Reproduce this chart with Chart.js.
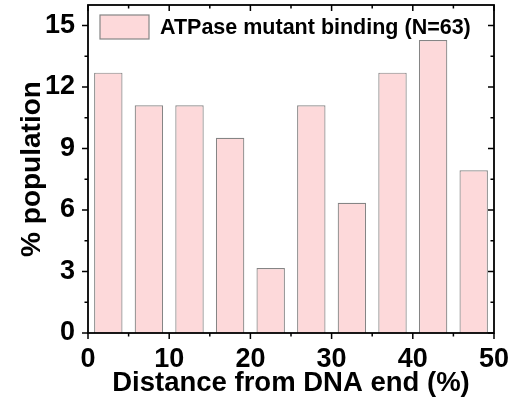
<!DOCTYPE html>
<html>
<head>
<meta charset="utf-8">
<script src="https://cdn.jsdelivr.net/npm/chart.js@4.4.1/dist/chart.umd.min.js"></script>
<style>
  html, body { margin: 0; padding: 0; background: #fff; }
  #wrap { width: 516px; height: 408px; }
</style>
</head>
<body>
<div id="wrap"><canvas id="mycanvas" width="516" height="408"></canvas></div>
<script>
// histogram data (counts out of 63)
var binCenters = [2.5, 7.5, 12.5, 17.5, 22.5, 27.5, 32.5, 37.5, 42.5, 47.5];
var population = [12.70, 11.11, 11.11, 9.52, 3.17, 11.11, 6.35, 12.70, 14.29, 7.94];

var xTicks = [0, 10, 20, 30, 40, 50];
var xMinor = [5, 15, 25, 35, 45];
var yTicks = [0, 3, 6, 9, 12, 15];
var yMinor = [1.5, 4.5, 7.5, 10.5, 13.5];

var FONT = "'Liberation Sans', Arial, Helvetica, sans-serif";
var FILL = '#fdd9da', EDGE = '#858585';

// frame + ticks in the Origin style (out on left/bottom, in on top/right), plus the legend box
var frameTicks = {
  id: 'frameTicks',
  afterDraw: function(chart) {
    var c = chart.ctx, a = chart.chartArea;
    var xs = chart.scales.x, ys = chart.scales.y;
    c.save();
    c.strokeStyle = '#000';
    c.lineWidth = 1.8;
    c.strokeRect(a.left, a.top, a.right - a.left, a.bottom - a.top);
    c.lineWidth = 1.5;
    function tx(v, len) {
      var p = xs.getPixelForValue(v);
      c.beginPath();
      c.moveTo(p, a.bottom); c.lineTo(p, a.bottom + len);
      c.moveTo(p, a.top); c.lineTo(p, a.top + len);
      c.stroke();
    }
    function ty(v, len) {
      var p = ys.getPixelForValue(v);
      c.beginPath();
      c.moveTo(a.left, p); c.lineTo(a.left - len, p);
      c.moveTo(a.right, p); c.lineTo(a.right - len, p);
      c.stroke();
    }
    xTicks.forEach(function(v){ tx(v, 6); });
    xMinor.forEach(function(v){ tx(v, 3.5); });
    yTicks.forEach(function(v){ ty(v, 6); });
    yMinor.forEach(function(v){ ty(v, 3.5); });

    // legend
    var bx = a.left + 12, by = a.top + 10;
    c.fillStyle = FILL;
    c.fillRect(bx, by, 49, 24);
    c.strokeStyle = EDGE;
    c.lineWidth = 1.2;
    c.strokeRect(bx, by, 49, 24);
    c.fillStyle = '#000';
    c.font = 'bold 21.5px ' + FONT;
    c.textBaseline = 'middle';
    c.textAlign = 'left';
    c.fillText(chart.data.datasets[0].label, bx + 60, by + 13);
    c.restore();
  }
};

var pts = [];
for (var i in binCenters) {
  pts.push({x: binCenters[i], y: population[i]});
}

var ctx = document.getElementById('mycanvas').getContext('2d');
var chart = new Chart(ctx, {
  type: 'bar',
  data: {
    datasets: [{
      label: 'ATPase mutant binding (N=63)',
      data: pts,
      backgroundColor: FILL,
      borderColor: EDGE,
      borderWidth: 1.2,
      barPercentage: 0.7,
      categoryPercentage: 1.0
    }]
  },
  options: {
    responsive: false,
    animation: false,
    layout: { padding: { left: 0, right: 22, top: 5, bottom: 0 } },
    plugins: {
      legend: { display: false },
      tooltip: { enabled: false }
    },
    scales: {
      x: {
        type: 'linear',
        min: 0, max: 50,
        offset: false,
        grid: { display: false, drawTicks: false, offset: false },
        border: { display: false },
        afterBuildTicks: function(s) { s.ticks = xTicks.map(function(v){ return {value: v}; }); },
        afterFit: function(s) { s.height = 75; s.paddingLeft = 0; s.paddingRight = 0; },
        ticks: {
          padding: 10,
          color: '#000',
          maxRotation: 0,
          font: { family: FONT, size: 27, weight: 'bold' }
        },
        title: {
          display: true,
          text: 'Distance from DNA end (%)',
          color: '#000',
          padding: { top: 0, bottom: 8 },
          font: { family: FONT, size: 27.5, weight: 'bold' }
        }
      },
      y: {
        min: 0, max: 16,
        grid: { display: false, drawTicks: false },
        border: { display: false },
        afterBuildTicks: function(s) { s.ticks = yTicks.map(function(v){ return {value: v}; }); },
        afterFit: function(s) { s.width = 88; s.paddingTop = 0; s.paddingBottom = 0; },
        ticks: {
          padding: 13,
          color: '#000',
          font: { family: FONT, size: 27, weight: 'bold' }
        },
        title: {
          display: true,
          text: '% population',
          color: '#000',
          padding: { top: 15, bottom: 0 },
          font: { family: FONT, size: 28, weight: 'bold' }
        }
      }
    }
  },
  plugins: [frameTicks]
});
</script>
</body>
</html>
